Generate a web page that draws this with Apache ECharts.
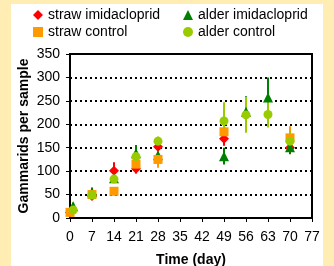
<!DOCTYPE html>
<html><head><meta charset="utf-8">
<script src="https://cdn.jsdelivr.net/npm/echarts@6/dist/echarts.min.js"></script>
<style>
html,body{margin:0;padding:0;background:#FFEDB3;width:334px;height:266px;overflow:hidden;}
#panel{position:absolute;left:11px;top:4px;width:312px;height:262px;background:#fff;}
#chart{position:absolute;left:0;top:0;width:334px;height:266px;}
</style></head>
<body><div id="panel"></div><div id="chart"></div>
<script>
// Data
const strawImiDays = [0, 7, 14, 21, 28, 49, 70];
const strawImiVals = [12, 47, 101, 105, 152, 169, 150];
const strawImiErr  = [5, 8, 18, 10, 8, 15, 10];

const strawCtrlDays = [0, 7, 14, 21, 28, 49, 70];
const strawCtrlVals = [12, 50, 57, 115, 125, 184, 171];
const strawCtrlErr  = [5, 5, 8, 12, 18, 15, 25];

const alderImiDays = [1, 7, 14, 21, 28, 49, 56, 63, 70];
const alderImiVals = [25, 55, 85, 138, 134, 132, 227, 257, 151];
const alderImiErr  = [8, 10, 8, 18, 10, 18, 33, 43, 15];

const alderCtrlDays = [1, 7, 14, 21, 28, 49, 56, 63, 70];
const alderCtrlVals = [17, 49, 83, 131, 164, 207, 220, 221, 164];
const alderCtrlErr  = [5, 5, 8, 10, 10, 40, 38, 28, 20];

const xTicks = [0, 7, 14, 21, 28, 35, 42, 49, 56, 63, 70, 77];
const yTicks = [0, 50, 100, 150, 200, 250, 300, 350];

const seriesDefs = [
  {name:'straw imidacloprid', days:strawImiDays, vals:strawImiVals, err:strawImiErr, color:'#FF0000', symbol:'diamond', size:10},
  {name:'alder imidacloprid', days:alderImiDays, vals:alderImiVals, err:alderImiErr, color:'#008000', symbol:'triangle', size:10},
  {name:'straw control', days:strawCtrlDays, vals:strawCtrlVals, err:strawCtrlErr, color:'#FF9900', symbol:'rect', size:9},
  {name:'alder control', days:alderCtrlDays, vals:alderCtrlVals, err:alderCtrlErr, color:'#99CC00', symbol:'circle', size:9}
];

const font = 'Liberation Sans, Arial, sans-serif';
const series = [];
seriesDefs.forEach(d => {
  series.push({
    type:'custom', z:1, silent:true,
    data: d.days.map((x,i)=>[x, d.vals[i], d.err[i]]),
    renderItem:(params, api)=>{
      const x=api.value(0), y=api.value(1), e=api.value(2);
      const a=api.coord([x,y+e]), b=api.coord([x,y-e]);
      return {type:'line', shape:{x1:a[0],y1:a[1],x2:b[0],y2:b[1]}, style:{stroke:d.color, lineWidth:2}};
    }
  });
});
seriesDefs.forEach(d => {
  series.push({
    name:d.name, type:'scatter', z:2, symbol:d.symbol, symbolSize:d.size,
    itemStyle:{color:d.color, opacity:1},
    data: d.days.map((x,i)=>[x, d.vals[i]])
  });
});

const chart = echarts.init(document.getElementById('chart'), null, {renderer:'canvas'});
chart.setOption({
  animation:false,
  backgroundColor:'transparent',
  textStyle:{fontFamily:font},
  legend:[
    {data:[{name:'straw imidacloprid', icon:'diamond'},{name:'straw control', icon:'rect'}],
     orient:'vertical', left:33, top:8, itemWidth:10, itemHeight:10, itemGap:3, padding:0,
     textStyle:{fontSize:14, color:'#000', fontFamily:font}},
    {data:[{name:'alder imidacloprid', icon:'triangle'},{name:'alder control', icon:'circle'}],
     orient:'vertical', left:183, top:8, itemWidth:10, itemHeight:10, itemGap:3, padding:0,
     textStyle:{fontSize:14, color:'#000', fontFamily:font}}
  ],
  grid:{left:70, right:22, top:54, bottom:48, containLabel:false, outerBoundsMode:'none',
        show:true, borderColor:'#000', borderWidth:2, backgroundColor:'transparent'},
  xAxis:{
    type:'value', min:xTicks[0], max:xTicks[xTicks.length-1], interval:7,
    name:'Time (day)', nameLocation:'middle', nameGap:35, nameMoveOverlap:false,
    nameTextStyle:{fontSize:14, fontWeight:'bold', color:'#000', fontFamily:font},
    axisLine:{show:true, onZero:false, lineStyle:{color:'#000', width:2}},
    axisTick:{show:true, inside:false, length:4, lineStyle:{color:'#000', width:1}},
    axisLabel:{fontSize:14, color:'#000', margin:12, fontFamily:font},
    splitLine:{show:false}
  },
  yAxis:{
    type:'value', min:yTicks[0], max:yTicks[yTicks.length-1], interval:50,
    name:'Gammarids per sample', nameLocation:'middle', nameGap:39, nameMoveOverlap:false,
    nameTextStyle:{fontSize:14, fontWeight:'bold', color:'#000', fontFamily:font},
    axisLine:{show:true, onZero:false, lineStyle:{color:'#000', width:2}},
    axisTick:{show:true, inside:false, length:4, lineStyle:{color:'#000', width:1}},
    axisLabel:{fontSize:14, color:'#000', margin:10, fontFamily:font},
    splitLine:{show:true, lineStyle:{color:'#000', width:2, type:[2,3]}}
  },
  series: series
});
</script></body></html>
